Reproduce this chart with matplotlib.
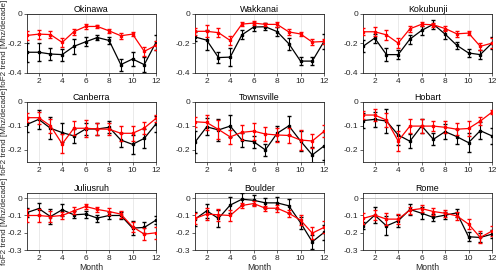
import numpy as np
import matplotlib
matplotlib.use("Agg")
import matplotlib.pyplot as plt

plt.rcParams['font.family'] = ['Liberation Sans', 'DejaVu Sans']
plt.rcParams['axes.unicode_minus'] = False

# ------------------- Data -------------------
months = np.arange(1, 13)
stations = ["Okinawa", "Wakkanai", "Kokubunji",
            "Canberra", "Townsville", "Hobart",
            "Juliusruh", "Boulder", "Rome"]

black = {
    "Okinawa":    [-0.260, -0.260, -0.272, -0.276, -0.220, -0.189, -0.160, -0.180, -0.344, -0.306, -0.344, -0.193],
    "Wakkanai":   [-0.156, -0.178, -0.296, -0.293, -0.142, -0.089, -0.087, -0.120, -0.202, -0.320, -0.320, -0.187],
    "Kokubunji":  [-0.220, -0.164, -0.276, -0.276, -0.171, -0.112, -0.070, -0.137, -0.213, -0.265, -0.276, -0.198],
    "Canberra":   [-0.094, -0.073, -0.110, -0.128, -0.142, -0.113, -0.113, -0.106, -0.159, -0.177, -0.152, -0.092],
    "Townsville": [-0.168, -0.104, -0.117, -0.101, -0.159, -0.166, -0.200, -0.131, -0.100, -0.163, -0.221, -0.184],
    "Hobart":     [-0.078, -0.073, -0.080, -0.138, -0.164, -0.100, -0.156, -0.124, -0.145, -0.170, -0.120, -0.142],
    "Juliusruh":  [-0.083, -0.060, -0.106, -0.067, -0.096, -0.092, -0.115, -0.100, -0.100, -0.173, -0.169, -0.127],
    "Boulder":    [-0.121, -0.073, -0.117, -0.040, -0.006, -0.012, -0.027, -0.027, -0.044, -0.142, -0.252, -0.198],
    "Rome":       [-0.160, -0.098, -0.160, -0.131, -0.065, -0.087, -0.111, -0.098, -0.085, -0.223, -0.227, -0.208],
}
black_err = {
    "Okinawa":    [0.065, 0.060, 0.040, 0.040, 0.050, 0.030, 0.020, 0.025, 0.040, 0.050, 0.050, 0.050],
    "Wakkanai":   [0.030, 0.070, 0.040, 0.060, 0.030, 0.025, 0.025, 0.030, 0.040, 0.025, 0.025, 0.050],
    "Kokubunji":  [0.040, 0.030, 0.045, 0.030, 0.030, 0.030, 0.030, 0.030, 0.025, 0.025, 0.030, 0.040],
    "Canberra":   [0.030, 0.040, 0.045, 0.040, 0.030, 0.025, 0.025, 0.025, 0.030, 0.040, 0.040, 0.035],
    "Townsville": [0.045, 0.035, 0.045, 0.045, 0.030, 0.025, 0.025, 0.030, 0.040, 0.040, 0.035, 0.060],
    "Hobart":     [0.030, 0.030, 0.050, 0.040, 0.030, 0.030, 0.025, 0.030, 0.030, 0.040, 0.035, 0.035],
    "Juliusruh":  [0.025, 0.035, 0.045, 0.035, 0.020, 0.020, 0.020, 0.020, 0.020, 0.040, 0.030, 0.025],
    "Boulder":    [0.040, 0.040, 0.050, 0.045, 0.035, 0.030, 0.030, 0.035, 0.040, 0.035, 0.040, 0.045],
    "Rome":       [0.020, 0.045, 0.055, 0.035, 0.030, 0.035, 0.020, 0.020, 0.025, 0.025, 0.025, 0.025],
}
red = {
    "Okinawa":    [-0.146, -0.137, -0.140, -0.193, -0.120, -0.085, -0.085, -0.115, -0.148, -0.137, -0.254, -0.213],
    "Wakkanai":   [-0.118, -0.118, -0.127, -0.180, -0.069, -0.062, -0.071, -0.071, -0.122, -0.136, -0.191, -0.187],
    "Kokubunji":  [-0.121, -0.121, -0.142, -0.198, -0.101, -0.070, -0.074, -0.099, -0.135, -0.130, -0.220, -0.198],
    "Canberra":   [-0.066, -0.066, -0.100, -0.175, -0.110, -0.110, -0.113, -0.114, -0.131, -0.131, -0.109, -0.069],
    "Townsville": [-0.083, -0.086, -0.115, -0.146, -0.127, -0.122, -0.134, -0.138, -0.140, -0.159, -0.163, -0.123],
    "Hobart":     [-0.055, -0.055, -0.076, -0.163, -0.101, -0.101, -0.101, -0.106, -0.114, -0.111, -0.080, -0.043],
    "Juliusruh":  [-0.100, -0.100, -0.106, -0.100, -0.073, -0.048, -0.065, -0.077, -0.092, -0.165, -0.208, -0.200],
    "Boulder":    [-0.117, -0.092, -0.096, -0.100, -0.042, -0.031, -0.058, -0.058, -0.087, -0.127, -0.202, -0.169],
    "Rome":       [-0.117, -0.098, -0.121, -0.121, -0.069, -0.060, -0.077, -0.087, -0.102, -0.150, -0.227, -0.190],
}
red_err = {
    "Okinawa":    [0.030, 0.030, 0.025, 0.030, 0.020, 0.015, 0.012, 0.015, 0.020, 0.015, 0.030, 0.030],
    "Wakkanai":   [0.025, 0.040, 0.030, 0.030, 0.015, 0.015, 0.012, 0.015, 0.020, 0.015, 0.020, 0.020],
    "Kokubunji":  [0.025, 0.030, 0.035, 0.035, 0.020, 0.015, 0.015, 0.020, 0.020, 0.015, 0.025, 0.035],
    "Canberra":   [0.020, 0.025, 0.030, 0.040, 0.030, 0.035, 0.025, 0.025, 0.030, 0.030, 0.025, 0.015],
    "Townsville": [0.020, 0.030, 0.040, 0.030, 0.030, 0.035, 0.030, 0.030, 0.030, 0.040, 0.030, 0.025],
    "Hobart":     [0.015, 0.025, 0.030, 0.040, 0.030, 0.030, 0.020, 0.025, 0.025, 0.030, 0.015, 0.008],
    "Juliusruh":  [0.035, 0.035, 0.030, 0.020, 0.020, 0.015, 0.015, 0.020, 0.020, 0.030, 0.035, 0.035],
    "Boulder":    [0.030, 0.035, 0.035, 0.030, 0.015, 0.015, 0.015, 0.020, 0.020, 0.030, 0.035, 0.035],
    "Rome":       [0.030, 0.030, 0.035, 0.030, 0.020, 0.020, 0.020, 0.020, 0.025, 0.030, 0.035, 0.030],
}

row_ylims = [(-0.4, 0.0), (-0.25, 0.0), (-0.3, 0.03)]
row_yticks = [[-0.4, -0.2, 0], [-0.2, -0.1, 0], [-0.3, -0.2, -0.1, 0]]

# ------------------- Layout -------------------
fig = plt.figure(figsize=(5.0, 2.73), dpi=100)
col_left = [0.054, 0.390, 0.726]
width = 0.258
row_pos = [(0.733, 0.216), (0.407, 0.220), (0.084, 0.209)]

edge = "#262626"
for i, name in enumerate(stations):
    r, c = divmod(i, 3)
    ax = fig.add_axes([col_left[c], row_pos[r][0], width, row_pos[r][1]])
    for x in range(2, 13, 2):
        ax.axvline(x, color="#e6e6e6", lw=0.6, zorder=0)
    ax.axhline(0, color="#b0b0b0", lw=0.6, zorder=0)
    ax.errorbar(months, black[name], yerr=black_err[name], color="black",
                lw=0.9, marker="s", ms=1.5, capsize=1.5, elinewidth=0.8, zorder=3)
    ax.errorbar(months, red[name], yerr=red_err[name], color="red",
                lw=0.9, marker="s", ms=1.5, capsize=1.5, elinewidth=0.8, zorder=4)
    ax.set_xlim(1, 12)
    ax.set_ylim(*row_ylims[r])
    ax.set_xticks(range(2, 13, 2))
    ax.set_yticks(row_yticks[r])
    ax.set_yticklabels([f"{v:g}" for v in row_yticks[r]])
    ax.tick_params(labelsize=6, length=2, width=0.5, colors=edge, pad=1.5)
    for s in ax.spines.values():
        s.set_linewidth(0.6)
        s.set_color(edge)
    ax.set_title(name, fontsize=6.4, pad=1.2, color="black")
    if c == 0:
        ax.set_ylabel("foF2 trend [Mhz/decade]", fontsize=5.8, color=edge)
        ax.yaxis.set_label_coords(-0.15, 0.5)
    if r == 2:
        ax.set_xlabel("Month", fontsize=6.2, labelpad=0.8, color=edge)

fig.savefig("out.png", dpi=100)
